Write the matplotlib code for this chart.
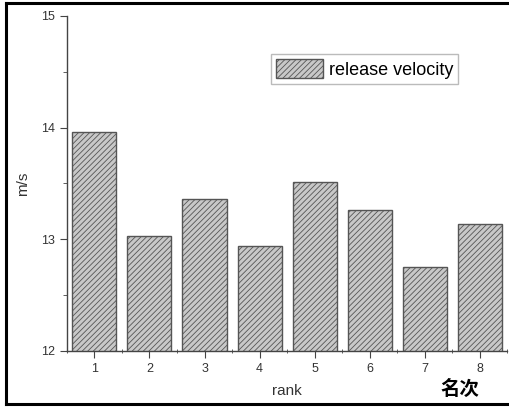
import matplotlib.pyplot as plt
from matplotlib.ticker import MultipleLocator
from matplotlib.lines import Line2D

# Data
ranks = [1, 2, 3, 4, 5, 6, 7, 8]
velocity = [13.96, 13.03, 13.36, 12.94, 13.51, 13.26, 12.75, 13.14]

plt.rcParams['font.family'] = ['Liberation Sans', 'DejaVu Sans']
plt.rcParams['hatch.color'] = '#7a7a7a'
plt.rcParams['hatch.linewidth'] = 0.6

fig = plt.figure(figsize=(5.10, 4.08), dpi=100)
ax = fig.add_axes([0.131, 0.140, 0.864, 0.821])

ax.bar(ranks, velocity, width=0.8, bottom=0, color='#c8c8c8', edgecolor='#555555',
       linewidth=1.0, hatch='//////', label='release velocity')

ax.set_xlim(0.5, 8.5)
ax.set_ylim(12, 15)
ax.set_xticks(ranks)
ax.set_yticks([12, 13, 14, 15])
ax.yaxis.set_minor_locator(MultipleLocator(0.5))
ax.xaxis.set_minor_locator(MultipleLocator(0.5))

ax.spines['top'].set_visible(False)
ax.spines['right'].set_visible(False)
for s in ['left', 'bottom']:
    ax.spines[s].set_color('#444444')
    ax.spines[s].set_linewidth(1.0)

ax.tick_params(axis='y', which='major', direction='out', length=5, color='#444444',
               labelsize=9, labelcolor='#333333')
ax.tick_params(axis='y', which='minor', direction='out', length=3, color='#444444')
ax.tick_params(axis='x', which='major', direction='out', length=5, color='#444444',
               labelsize=9, labelcolor='#333333')
ax.tick_params(axis='x', which='minor', direction='inout', length=3, color='#444444')

ax.set_ylabel('m/s', fontsize=11, color='#333333', labelpad=8)
ax.set_xlabel('rank', fontsize=11, color='#333333', labelpad=7)

leg = ax.legend(loc='upper left', bbox_to_anchor=(0.463, 0.887), fontsize=13,
                frameon=True, fancybox=False, handlelength=2.6, handleheight=1.2,
                borderpad=0.3, handletextpad=0.3, borderaxespad=0)
leg.get_frame().set_edgecolor('#aaaaaa')
leg.get_frame().set_linewidth(1.0)

fig.text(0.902, 0.022, '名次', fontsize=14, fontweight='bold',
         family=['Noto Sans CJK SC', 'DejaVu Sans'], ha='center', va='bottom')

# outer frame (top, left, bottom)
frame_lw = 2.2
fig.add_artist(Line2D([0.011, 1.0], [0.992, 0.992], transform=fig.transFigure,
                      color='black', linewidth=frame_lw))
fig.add_artist(Line2D([0.011, 0.011], [0.992, 0.010], transform=fig.transFigure,
                      color='black', linewidth=frame_lw))
fig.add_artist(Line2D([0.011, 1.0], [0.010, 0.010], transform=fig.transFigure,
                      color='black', linewidth=frame_lw))

fig.savefig('out.png', dpi=100)
